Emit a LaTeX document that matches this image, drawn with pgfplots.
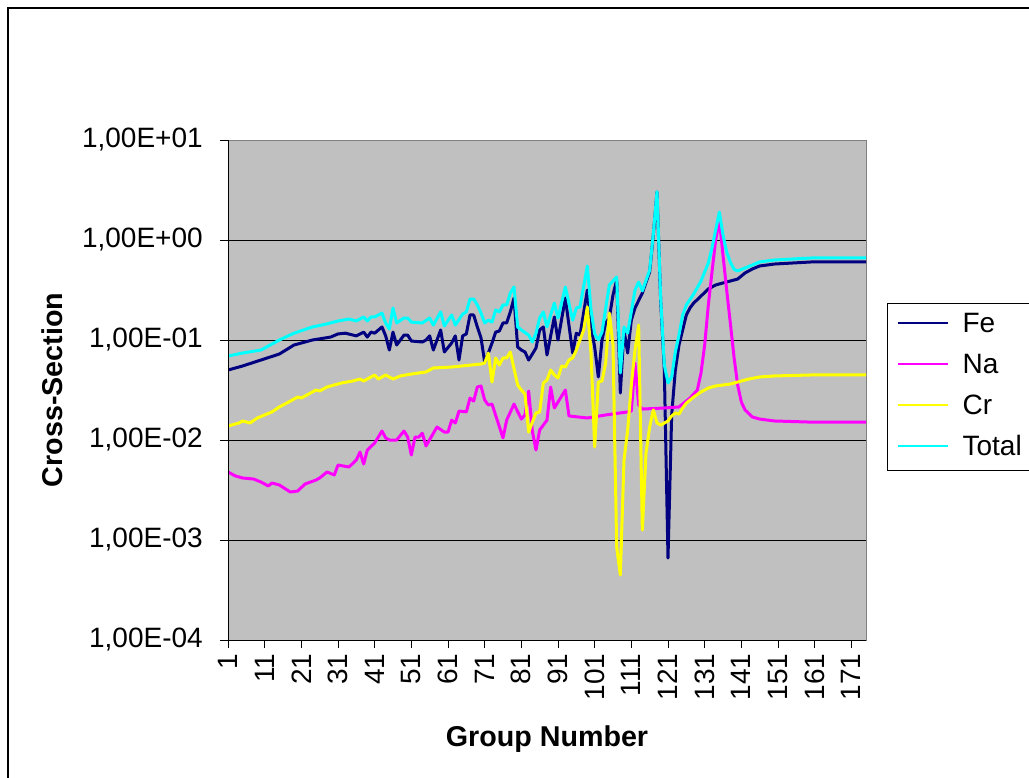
\documentclass[border=0pt]{standalone}
\usepackage{fontspec}
\setmainfont{Liberation Sans}
\usepackage{pgfplots}
\pgfplotsset{compat=1.18}
\definecolor{feC}{RGB}{0,0,128}
\definecolor{naC}{RGB}{255,0,255}
\definecolor{crC}{RGB}{255,255,0}
\definecolor{toC}{RGB}{0,255,255}
\definecolor{bgC}{RGB}{192,192,192}
\definecolor{frC}{RGB}{128,128,128}
\begin{document}
\begin{tikzpicture}
\useasboundingbox (0pt,0pt) rectangle (771.75pt,-583.5pt);
\fill[white] (0pt,0pt) rectangle (771.75pt,-583.5pt);
\draw[black, line width=1pt] (6pt,-583.5pt) -- (6pt,-6pt) -- (771.75pt,-6pt);
\begin{axis}[
  name=ax,
  at={(171pt,-480pt)}, anchor=south west,
  scale only axis, width=478.5pt, height=375pt,
  xmin=1, xmax=175, ymode=log, ymin=1e-4, ymax=10,
  axis background/.style={fill=bgC},
  axis line style={frC, line width=0.75pt},
  xtick={1,11,...,171},
  xticklabels={1,11,21,31,41,51,61,71,81,91,101,111,121,131,141,151,161,171},
  ytick={1e-4,1e-3,1e-2,1e-1,1,10},
  yticklabels={{\mbox{1,00E-04}},{\mbox{1,00E-03}},{\mbox{1,00E-02}},{\mbox{1,00E-01}},{\mbox{1,00E+00}},{\mbox{1,00E+01}}},
  yminorticks=false,
  tick style={black, line width=0.75pt},
  major tick length=6pt,
  tick align=outside,
  tick pos=left,
  ymajorgrids,
  major grid style={black, line width=0.75pt},
  tick label style={font=\fontsize{21}{25}\selectfont},
  yticklabel style={anchor=east, inner sep=0pt, xshift=-12.75pt},
  xticklabel shift=4pt,
  xticklabel style={rotate=90, anchor=east, inner sep=0pt},
  xlabel={Group Number},
  xlabel style={font=\bfseries\fontsize{21.5}{26}\selectfont, at={(axis description cs:0.5,-0.198)}, anchor=center},
  ylabel={Cross-Section},
  ylabel style={font=\bfseries\fontsize{21.5}{26}\selectfont, at={(axis description cs:-0.276,0.5)}, anchor=center},
  legend style={at={(1.033,0.674)}, anchor=north west, draw=black, line width=0.75pt, fill=white,
    inner xsep=6.75pt, inner ysep=7pt, row sep=11.75pt, font=\fontsize{21}{25}\selectfont,
    nodes={inner sep=0pt, text height=15pt, text depth=4pt, anchor=base west},
    /tikz/every odd column/.style={column sep=10.5pt}},
  legend cell align=left,
  legend image code/.code={\draw[#1, line width=1.5pt] (0pt,7.3pt) -- (37.5pt,7.3pt);},
  every axis plot/.append style={line width=2.25pt, line join=round, mark=none},
]
\addplot[feC] coordinates {(1,0.0501)(5,0.0550)(10,0.0631)(15,0.0724)(19,0.0891)(24,0.100)(29,0.107)(31,0.115)(33,0.117)(36,0.110)(38,0.120)(39,0.107)(40,0.120)(41,0.117)(43,0.135)(44,0.110)(45,0.0794)(46,0.120)(47,0.0891)(49,0.112)(50,0.112)(51,0.0977)(54,0.0955)(55,0.100)(56,0.110)(57,0.0794)(59,0.126)(60,0.0759)(62,0.0933)(63,0.110)(64,0.0631)(65,0.110)(66,0.115)(67,0.178)(68,0.178)(69,0.135)(70,0.105)(71,0.0603)(72,0.0741)(73,0.0933)(74,0.120)(75,0.123)(76,0.148)(77,0.148)(78,0.191)(79,0.263)(80,0.0851)(81,0.0794)(82,0.0759)(83,0.0631)(84,0.0724)(85,0.0832)(86,0.126)(87,0.135)(88,0.0708)(90,0.170)(91,0.100)(93,0.263)(95,0.0741)(96,0.117)(97,0.112)(99,0.316)(100,0.135)(101,0.0851)(102,0.0427)(103,0.100)(104,0.148)(105,0.166)(106,0.282)(107,0.398)(108,0.0295)(109,0.126)(110,0.0741)(111,0.158)(112,0.209)(114,0.295)(116,0.48)(117,1.122)(118,3.02)(119,0.245)(120,0.05)(121,0.000661)(122,0.0178)(123,0.0501)(124,0.0891)(125,0.126)(126,0.178)(127,0.209)(128,0.234)(130,0.275)(132,0.324)(134,0.355)(136,0.372)(138,0.389)(140,0.407)(142,0.468)(144,0.513)(146,0.550)(148,0.562)(150,0.575)(155,0.589)(160,0.603)(175,0.603)};
\addlegendentry{Fe}
\addplot[naC] coordinates {(1,0.00479)(3,0.00437)(5,0.00417)(8,0.00407)(10,0.00380)(12,0.00347)(13,0.00372)(15,0.00355)(18,0.00302)(20,0.00309)(22,0.00363)(25,0.00398)(26,0.00417)(28,0.00479)(30,0.00447)(31,0.00562)(34,0.00537)(36,0.00631)(37,0.00759)(38,0.00575)(39,0.00794)(41,0.00933)(43,0.0123)(44,0.0105)(45,0.0100)(47,0.0100)(49,0.0123)(50,0.0107)(51,0.00708)(52,0.0107)(53,0.0107)(54,0.0117)(55,0.00871)(58,0.0135)(60,0.0120)(61,0.0120)(62,0.0158)(63,0.0148)(64,0.0195)(66,0.0191)(67,0.0263)(68,0.0245)(69,0.0339)(70,0.0347)(71,0.0251)(72,0.0224)(73,0.0229)(76,0.0105)(77,0.0158)(79,0.0229)(81,0.0162)(82,0.0178)(83,0.0309)(84,0.0123)(85,0.00794)(86,0.0126)(88,0.0158)(89,0.0339)(90,0.0209)(93,0.0316)(94,0.0174)(99,0.0166)(104,0.0178)(110,0.0191)(111,0.0195)(112,0.0589)(113,0.0224)(114,0.0204)(120,0.0209)(124,0.0214)(127,0.0263)(129,0.0316)(130,0.0468)(131,0.0891)(132,0.224)(133,0.479)(134,1.00)(135,1.585)(136,0.708)(137,0.316)(138,0.148)(139,0.0676)(140,0.0355)(141,0.0240)(142,0.0200)(144,0.0170)(146,0.0162)(150,0.0155)(160,0.0151)(175,0.0151)};
\addlegendentry{Na}
\addplot[crC] coordinates {(1,0.0138)(4,0.0148)(5,0.0155)(7,0.0148)(9,0.0166)(13,0.0191)(15,0.0214)(17,0.0234)(20,0.0269)(21,0.0263)(25,0.0316)(26,0.0309)(28,0.0339)(32,0.0372)(35,0.0389)(37,0.0407)(38,0.0389)(41,0.0447)(42,0.0407)(44,0.0447)(46,0.0407)(48,0.0437)(51,0.0457)(55,0.0479)(57,0.0525)(62,0.0537)(70,0.0575)(71,0.0589)(72,0.0741)(73,0.0380)(74,0.0661)(75,0.0562)(76,0.0661)(77,0.0661)(78,0.0759)(80,0.0355)(81,0.0316)(82,0.0288)(83,0.0120)(84,0.0151)(85,0.0186)(86,0.0191)(87,0.0372)(88,0.0398)(89,0.0501)(90,0.0447)(91,0.0417)(92,0.0550)(93,0.0537)(94,0.0631)(95,0.0661)(96,0.0794)(97,0.100)(98,0.126)(99,0.214)(100,0.0741)(101,0.00851)(102,0.0380)(103,0.0389)(104,0.0589)(105,0.186)(106,0.0891)(107,0.000851)(108,0.000447)(109,0.00631)(110,0.0126)(111,0.0355)(112,0.0794)(113,0.141)(114,0.00126)(115,0.00741)(116,0.0135)(117,0.0200)(118,0.0148)(119,0.0141)(121,0.0155)(122,0.0174)(123,0.0186)(124,0.0182)(125,0.0209)(126,0.0234)(128,0.0269)(130,0.0302)(132,0.0331)(134,0.0347)(136,0.0355)(138,0.0363)(140,0.0380)(143,0.0407)(146,0.0427)(150,0.0437)(160,0.0447)(175,0.0447)};
\addlegendentry{Cr}
\addplot[toC] coordinates {(1,0.0692)(5,0.0741)(10,0.0794)(15,0.100)(19,0.117)(24,0.135)(28,0.145)(31,0.155)(34,0.162)(36,0.155)(38,0.170)(39,0.155)(40,0.170)(41,0.170)(43,0.186)(44,0.148)(45,0.129)(46,0.209)(47,0.148)(49,0.166)(50,0.166)(51,0.151)(54,0.148)(56,0.166)(57,0.141)(59,0.191)(60,0.138)(62,0.178)(63,0.141)(65,0.182)(66,0.191)(67,0.257)(68,0.257)(69,0.224)(70,0.186)(71,0.148)(72,0.158)(73,0.151)(74,0.200)(75,0.191)(76,0.224)(77,0.224)(78,0.295)(79,0.339)(80,0.135)(81,0.126)(83,0.112)(84,0.0955)(85,0.117)(86,0.166)(87,0.191)(88,0.135)(90,0.234)(91,0.166)(93,0.339)(95,0.158)(96,0.209)(97,0.214)(99,0.550)(100,0.2)(101,0.115)(102,0.100)(103,0.120)(105,0.355)(107,0.427)(108,0.0468)(109,0.135)(110,0.117)(112,0.316)(113,0.380)(114,0.31)(116,0.50)(117,1.15)(118,3.05)(119,0.26)(120,0.0562)(121,0.0372)(122,0.0427)(123,0.0759)(124,0.112)(125,0.178)(126,0.224)(128,0.288)(130,0.389)(131,0.479)(132,0.589)(133,0.832)(134,1.259)(135,1.905)(136,1.12)(137,0.76)(138,0.60)(139,0.51)(140,0.490)(142,0.525)(146,0.603)(150,0.631)(160,0.661)(175,0.661)};
\addlegendentry{Total}
\end{axis}
\draw[black, line width=0.75pt] (ax.north west) -- (ax.south west) -- (ax.south east);
\end{tikzpicture}
\end{document}
